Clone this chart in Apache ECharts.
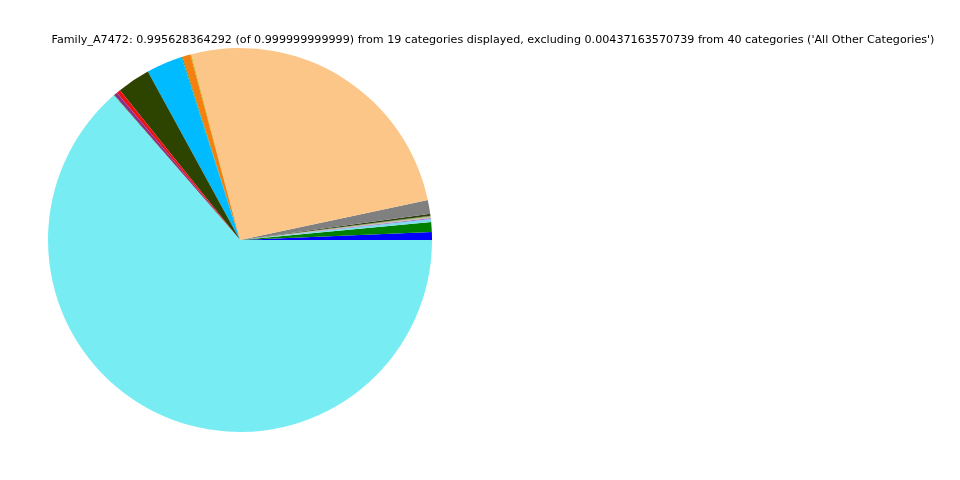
<!DOCTYPE html>
<html><head><meta charset="utf-8">
<script src="https://cdn.jsdelivr.net/npm/echarts@6/dist/echarts.min.js"></script>
<style>html,body{margin:0;padding:0;background:#fff}#c{width:960px;height:480px}</style>
</head><body><div id="c"></div>
<script>
const titleText = "Family_A7472: 0.995628364292 (of 0.999999999999) from 19 categories displayed, excluding 0.00437163570739 from 40 categories ('All Other Categories')";
const categories = ["Cat01","Cat02","Cat03","Cat04","Cat05","Cat06","Cat07","Cat08","Cat09","Cat10","Cat11","Cat12","Cat13","Cat14","Cat15","Cat16","Cat17","Cat18","Cat19"];
// approximate shares read from the angles (degrees / 360)
const values = [0.0067,0.0083,0.0025,0.0008,0.0007,0.0006,0.0005,0.0017,0.0117,0.2575,0.0008,0.0067,0.0008,0.0306,0.0278,0.0033,0.0028,0.0006,0.6362];
const colors = ["#0000ff","#008000","#7fdcec","#9370db","#d2b48c","#a9a9a9","#6b8e23","#2f3f10","#808080","#fcc688","#bcbd22","#f57f0f","#808000","#00bbff","#2d4400","#ee1111","#8b2e8b","#556b2f","#78ecf3"];
const chart = echarts.init(document.getElementById('c'), null, {renderer:'canvas'});
chart.setOption({
  animation:false,
  title:{text:titleText,left:488,top:30,textAlign:'center',textStyle:{fontFamily:'DejaVu Sans',fontSize:11.15,fontWeight:'normal',color:'#000'}},
  series:[{
    type:'pie',
    center:[240,240],
    radius:192,
    startAngle:0,
    clockwise:false,
    avoidLabelOverlap:false,
    minAngle:0,
    label:{show:false},labelLine:{show:false},
    itemStyle:{borderWidth:0},
    emphasis:{disabled:true},
    data:categories.map((n,i)=>({name:n,value:values[i],itemStyle:{color:colors[i]}}))
  }]
});
</script></body></html>
